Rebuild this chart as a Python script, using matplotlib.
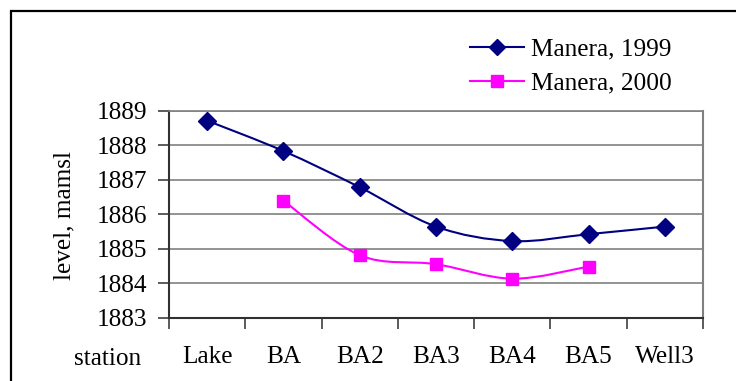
import matplotlib
matplotlib.use("Agg")
import matplotlib.pyplot as plt
from matplotlib.path import Path
from matplotlib.patches import PathPatch, Rectangle
from matplotlib.lines import Line2D
import numpy as np

categories = ["Lake", "BA", "BA2", "BA3", "BA4", "BA5", "Well3"]
manera_1999 = [1888.72, 1887.84, 1886.79, 1885.65, 1885.23, 1885.43, 1885.65]
manera_2000 = [None, 1886.40, 1884.82, 1884.56, 1884.14, 1884.49, None]
y_ticks = [1883, 1884, 1885, 1886, 1887, 1888, 1889]
series_names = ["Manera, 1999", "Manera, 2000"]

plt.rcParams['font.family'] = ['Liberation Serif', 'DejaVu Serif']
FS = 18.2

fig = plt.figure(figsize=(7.36, 3.81), dpi=100)
fig.patch.set_facecolor('white')

# outer frame
fig.patches.append(Rectangle((11/736, -0.1), 1.2, (381-11)/381 + 0.1,
                             transform=fig.transFigure, fill=False,
                             edgecolor='black', linewidth=1.6))

ax = fig.add_axes([169/736, (381-318)/381, (703-169)/736, (318-111)/381])


def smooth_path(xs, ys):
    pts = [(x, y) for x, y in zip(xs, ys) if y is not None]
    P = np.array(pts, dtype=float)
    n = len(P)
    verts = [P[0]]
    codes = [Path.MOVETO]
    for i in range(n - 1):
        p0 = P[i - 1] if i > 0 else P[i]
        p1 = P[i]
        p2 = P[i + 1]
        p3 = P[i + 2] if i + 2 < n else P[i + 1]
        c1 = p1 + (p2 - p0) / 6.0
        c2 = p2 - (p3 - p1) / 6.0
        verts += [c1, c2, p2]
        codes += [Path.CURVE4] * 3
    return Path(verts, codes), P


x = np.arange(len(categories))
styles = [
    dict(color='#000080', marker='D', ms=9),
    dict(color='#FF00FF', marker='s', ms=9.2),
]
handles = []
for vals, st, name in zip([manera_1999, manera_2000], styles, series_names):
    path, P = smooth_path(x, vals)
    ax.add_patch(PathPatch(path, facecolor='none', edgecolor=st['color'],
                           linewidth=1.5, zorder=3))
    ax.plot(P[:, 0], P[:, 1], linestyle='none', marker=st['marker'],
            ms=st['ms'], color=st['color'], zorder=4, clip_on=False)
    handles.append(Line2D([0], [0], color=st['color'], linewidth=1.5,
                          marker=st['marker'], ms=st['ms'] * 0.95))

ax.set_xlim(-0.5, len(categories) - 0.5)
ax.set_ylim(1883, 1889)
ax.set_yticks(y_ticks)
ax.set_yticklabels([str(v) for v in y_ticks], fontsize=FS)
ax.yaxis.grid(True, color='#808080', linewidth=1.2)
ax.set_axisbelow(True)

ax.set_xticks(np.arange(-0.5, len(categories)))
ax.set_xticklabels([])
ax.set_xticks(x, minor=True)
ax.set_xticklabels(categories, minor=True, fontsize=FS)
ax.tick_params(axis='x', which='major', direction='out', length=8,
               width=1.2, color='#404040')
ax.tick_params(axis='x', which='minor', length=0, pad=20)
ax.tick_params(axis='y', direction='out', length=8, width=1.2,
               color='#404040', pad=8)

for s in ['left', 'bottom']:
    ax.spines[s].set_color('#303030')
    ax.spines[s].set_linewidth(1.5)
ax.spines['top'].set_color('#808080')
ax.spines['top'].set_linewidth(1.2)
ax.spines['right'].set_color('#808080')
ax.spines['right'].set_linewidth(1.5)

fig.text(108/736, (381-359)/381, "station", fontsize=FS,
         ha='center', va='center')
fig.text(64/736, (381-215)/381, "level, mamsl", fontsize=FS,
         ha='center', va='center', rotation=90)

fig.legend(handles, series_names, loc='upper left',
           bbox_to_anchor=(470/736, (381-38)/381), frameon=False,
           fontsize=FS, handlelength=2.15, handletextpad=0.25,
           labelspacing=0.45, borderpad=0, borderaxespad=0)

fig.savefig("out.png", dpi=100, facecolor='white')
